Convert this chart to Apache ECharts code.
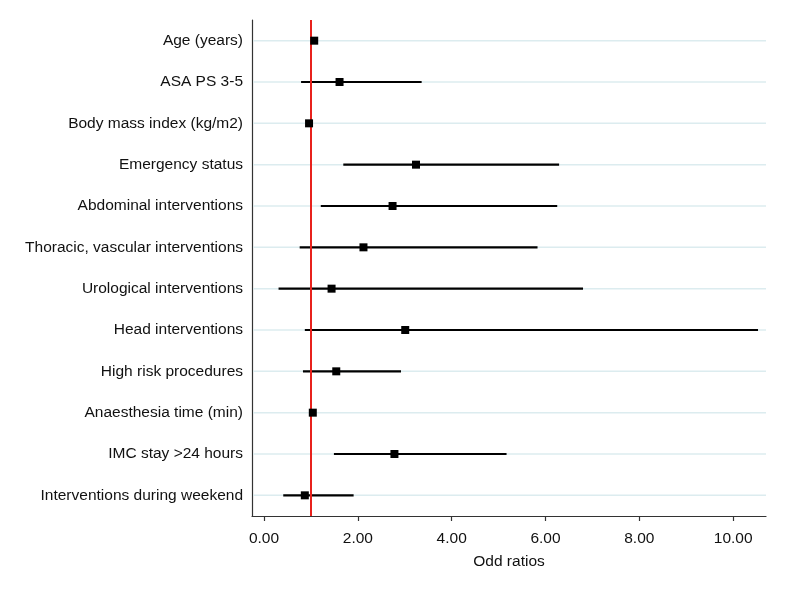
<!DOCTYPE html>
<html>
<head>
<meta charset="utf-8">
<script src="https://cdn.jsdelivr.net/npm/echarts@6/dist/echarts.min.js"></script>
<style>
html,body{margin:0;padding:0;background:#fff;}
#chart{width:790px;height:590px;}
</style>
</head>
<body>
<div id="chart"></div>
<script>
var categories = [
  'Age (years)',
  'ASA PS 3-5',
  'Body mass index (kg/m2)',
  'Emergency status',
  'Abdominal interventions',
  'Thoracic, vascular interventions',
  'Urological interventions',
  'Head interventions',
  'High risk procedures',
  'Anaesthesia time (min)',
  'IMC stay >24 hours',
  'Interventions during weekend'
];
var oddRatios = [1.07, 1.61, 0.96, 3.24, 2.74, 2.12, 1.44, 3.01, 1.54, 1.04, 2.78, 0.87];
var lowerCI   = [1.05, 0.79, 0.94, 1.69, 1.21, 0.76, 0.31, 0.87, 0.83, 1.02, 1.49, 0.41];
var upperCI   = [1.09, 3.36, 0.98, 6.29, 6.25, 5.83, 6.80, 10.53, 2.92, 1.06, 5.17, 1.91];
var xTicks = [0, 2, 4, 6, 8, 10];
var referenceValue = 1;

var font = 'Liberation Sans, Arial, sans-serif';
var chart = echarts.init(document.getElementById('chart'), null, {renderer: 'canvas'});

var ciData = categories.map(function (c, i) { return [lowerCI[i], upperCI[i], i]; });
var pointData = categories.map(function (c, i) { return [oddRatios[i], i]; });
var gridData = categories.map(function (c, i) { return [0, i]; });

chart.setOption({
  animation: false,
  backgroundColor: '#ffffff',
  grid: {left: 252, right: 24, top: 20, bottom: 74, containLabel: false},
  xAxis: {
    type: 'value',
    min: -0.256,
    max: 10.7,
    name: 'Odd ratios',
    nameLocation: 'middle',
    nameGap: 38,
    nameTextStyle: {fontFamily: font, fontSize: 15.5, color: '#111'},
    axisLine: {show: true, onZero: false, lineStyle: {color: '#333', width: 1.2}},
    axisTick: {show: true, length: 5, customValues: xTicks, lineStyle: {color: '#333', width: 1.2}},
    axisLabel: {
      customValues: xTicks,
      margin: 15,
      fontFamily: font, fontSize: 15.5, color: '#111',
      formatter: function (v) { return v.toFixed(2); }
    },
    splitLine: {show: false}
  },
  yAxis: {
    type: 'category',
    data: categories,
    inverse: true,
    axisLine: {show: true, onZero: false, lineStyle: {color: '#333', width: 1.2}},
    axisTick: {show: false},
    axisLabel: {margin: 9, fontFamily: font, fontSize: 15.5, color: '#111'},
    splitLine: {show: false}
  },
  series: [
    {
      type: 'custom',
      z: 1,
      silent: true,
      data: gridData,
      renderItem: function (params, api) {
        var p = api.coord([0, api.value(1)]);
        var cs = params.coordSys;
        return {
          type: 'line',
          shape: {x1: cs.x + 1, y1: p[1], x2: cs.x + cs.width, y2: p[1]},
          style: {stroke: '#dcecef', lineWidth: 1.5}
        };
      }
    },
    {
      type: 'custom',
      z: 3,
      silent: true,
      data: ciData,
      encode: {x: [0, 1], y: 2},
      renderItem: function (params, api) {
        var a = api.coord([api.value(0), api.value(2)]);
        var b = api.coord([api.value(1), api.value(2)]);
        return {
          type: 'line',
          shape: {x1: a[0], y1: a[1], x2: b[0], y2: b[1]},
          style: {stroke: '#000', lineWidth: 2.2}
        };
      }
    },
    {
      type: 'scatter',
      z: 5,
      data: pointData,
      symbol: 'rect',
      symbolSize: 8,
      itemStyle: {color: '#000', opacity: 1},
      markLine: {
        silent: true,
        symbol: 'none',
        label: {show: false},
        z: 4,
        lineStyle: {color: '#e8211c', width: 2, type: 'solid', opacity: 1},
        data: [{xAxis: referenceValue}]
      }
    }
  ]
});
</script>
</body>
</html>
